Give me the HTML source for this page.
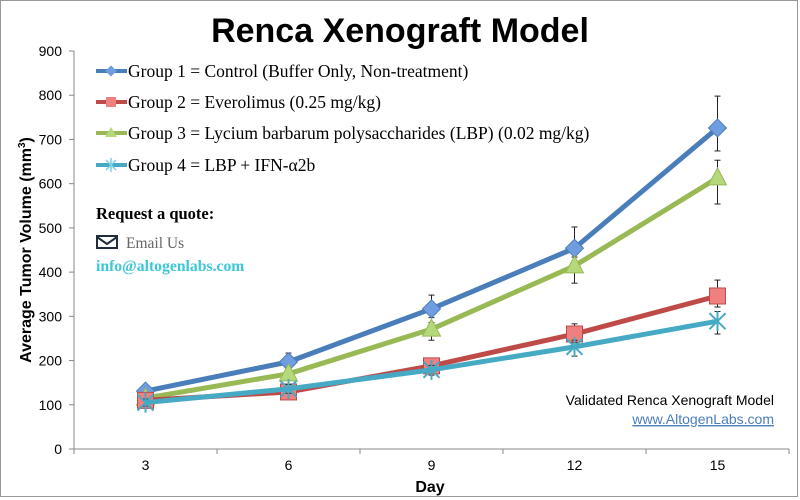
<!DOCTYPE html>
<html><head><meta charset="utf-8"><style>
html,body{margin:0;padding:0;background:#fff}
svg{display:block}
</style></head><body>
<svg id="chart" width="800" height="500" xmlns="http://www.w3.org/2000/svg" font-family="Liberation Sans, sans-serif">
<rect x="0.5" y="0.5" width="797" height="496" fill="#fff" stroke="#999"/>
<text x="400" y="42" text-anchor="middle" font-size="34" font-weight="bold">Renca Xenograft Model</text>
<g id="axes"></g>
<g id="series"></g>
<g font-family="Liberation Serif, serif" font-size="17.5">
 <g><line x1="96" y1="71" x2="127" y2="71" stroke="#4a7ebb" stroke-width="4"/><rect x="107" y="67" width="8" height="8" transform="rotate(45 111 71)" fill="#6f9de0"/><text x="128" y="77">Group 1 = Control (Buffer Only, Non-treatment)</text></g>
 <g><line x1="96" y1="102" x2="127" y2="102" stroke="#be4b48" stroke-width="4"/><rect x="106" y="97" width="10" height="10" fill="#f08080"/><text x="128" y="108">Group 2 = Everolimus (0.25 mg/kg)</text></g>
 <g><line x1="96" y1="133" x2="127" y2="133" stroke="#98b954" stroke-width="4"/><polygon points="111,127 117,137 105,137" fill="#b5d97a"/><text x="128" y="139">Group 3 = Lycium barbarum polysaccharides (LBP) (0.02 mg/kg)</text></g>
 <g><line x1="96" y1="165" x2="127" y2="165" stroke="#46aac5" stroke-width="4"/><path d="M106,160L116,170M116,160L106,170M111,158L111,172" stroke="#7fd0e4" stroke-width="1.5"/><text x="128" y="171">Group 4 = LBP + IFN-α2b</text></g>
</g>
<text x="96" y="219" font-family="Liberation Serif, serif" font-size="16.5" font-weight="bold">Request a quote:</text>
<g><rect x="97" y="236" width="20" height="12" fill="none" stroke="#1f2d3d" stroke-width="2"/><polyline points="97,237 107,244 117,237" fill="none" stroke="#1f2d3d" stroke-width="2"/></g>
<text x="126" y="248" font-family="Liberation Serif, serif" font-size="15.5" fill="#666">Email Us</text>
<text x="96" y="271" font-family="Liberation Serif, serif" font-size="15.7" font-weight="bold" fill="#3cc8d8">info@altogenlabs.com</text>
<text x="774" y="405" text-anchor="end" font-size="14">Validated Renca Xenograft Model</text>
<text x="774" y="424" text-anchor="end" font-size="14" fill="#4a7ebb" text-decoration="underline">www.AltogenLabs.com</text>
<text transform="translate(31 250) rotate(-90)" text-anchor="middle" font-size="16" font-weight="bold">Average Tumor Volume (mm<tspan font-size="10" dy="-6">3</tspan><tspan dy="6">)</tspan></text>
<text x="430" y="492" text-anchor="middle" font-size="16" font-weight="bold">Day</text>
</svg>
<script>
const days = ['3','6','9','12','15'];
const yTicks = [0,100,200,300,400,500,600,700,800,900];
const g1 = [131,197,317,454,726];
const g1Up = [10,20,31,48,72];
const g1Dn = [10,15,20,44,52];
const g2 = [110,129,188,260,346];
const g2Up = [8,10,12,23,36];
const g2Dn = [8,10,12,20,25];
const g3 = [115,170,271,414,613];
const g3Up = [8,12,15,20,40];
const g3Dn = [8,12,25,39,59];
const g4 = [105,136,179,231,289];
const g4Up = [8,10,10,15,22];
const g4Dn = [8,10,12,21,29];
const NS='http://www.w3.org/2000/svg';
const X0=74,X1=789,Y0=449,Y1=51,YMAX=900;
const band=(X1-X0)/days.length;
function xs(i){return X0+band*(i+0.5);}
function ys(v){return Y0-(v/YMAX)*(Y0-Y1);}
function mk(tag,attrs,parent){const e=document.createElementNS(NS,tag);for(const k in attrs)e.setAttribute(k,attrs[k]);parent.appendChild(e);return e;}
const axes=document.getElementById('axes');
const yl=mk('line',{x1:X0,y1:Y1,x2:X0,y2:Y0,stroke:'#888'},axes);


const xl=mk('line',{x1:X0,y1:Y0,x2:X1,y2:Y0,stroke:'#888'},axes);


yTicks.forEach(v=>{
 mk('line',{x1:X0-5,y1:ys(v),x2:X0,y2:ys(v),stroke:'#888'},axes);
 const t=mk('text',{x:X0-12,y:ys(v)+5,'text-anchor':'end','font-size':14},axes);
 
 
 t.textContent=v;
});
for(let i=0;i<=days.length;i++){mk('line',{x1:X0+band*i,y1:Y0,x2:X0+band*i,y2:Y0+5,stroke:'#888'},axes);}
days.forEach((d,i)=>{
 const t=mk('text',{x:xs(i),y:Y0+21,'text-anchor':'middle','font-size':14},axes);
 
 
 t.textContent=d;
});
const series=document.getElementById('series');
const defs=[
 {name:'group1',vals:g1,up:g1Up,dn:g1Dn,col:'#4a7ebb',fill:'#6f9de0',m:'diamond'},
 {name:'group3',vals:g3,up:g3Up,dn:g3Dn,col:'#98b954',fill:'#b5d97a',m:'tri'},
 {name:'group2',vals:g2,up:g2Up,dn:g2Dn,col:'#be4b48',fill:'#f08080',m:'square'},
 {name:'group4',vals:g4,up:g4Up,dn:g4Dn,col:'#46aac5',fill:'#46aac5',m:'star'}
];
defs.forEach(s=>{
 const g=mk('g',{},series);
 
 
 s.vals.forEach((v,i)=>{
  const x=xs(i),a=ys(v+s.up[i]),b=ys(v-s.dn[i]);
  mk('line',{x1:x,y1:a,x2:x,y2:b,stroke:'#222','stroke-width':1},g);
  mk('line',{x1:x-3,y1:a,x2:x+3,y2:a,stroke:'#222'},g);
  mk('line',{x1:x-3,y1:b,x2:x+3,y2:b,stroke:'#222'},g);
 });
 const pl=mk('polyline',{points:s.vals.map((v,i)=>xs(i)+','+ys(v)).join(' '),fill:'none',stroke:s.col,'stroke-width':5,'stroke-linejoin':'round'},g);
 
 
 s.vals.forEach((v,i)=>{
  const x=xs(i),y=ys(v);let e;
  if(s.m==='diamond')e=mk('polygon',{points:`${x},${y-9} ${x+9},${y} ${x},${y+9} ${x-9},${y}`,fill:s.fill,stroke:'#4a7ebb'},g);
  else if(s.m==='square')e=mk('rect',{x:x-8,y:y-8,width:16,height:16,fill:s.fill,stroke:'#be4b48'},g);
  else if(s.m==='tri')e=mk('polygon',{points:`${x},${y-10} ${x+9},${y+7} ${x-9},${y+7}`,fill:s.fill,stroke:'#98b954'},g);
  else{e=mk('path',{d:`M${x-8},${y-8}L${x+8},${y+8}M${x+8},${y-8}L${x-8},${y+8}M${x},${y-10}L${x},${y+10}`,stroke:s.fill,'stroke-width':2},g);}
  
  
 });
});
</script>
</body></html>
